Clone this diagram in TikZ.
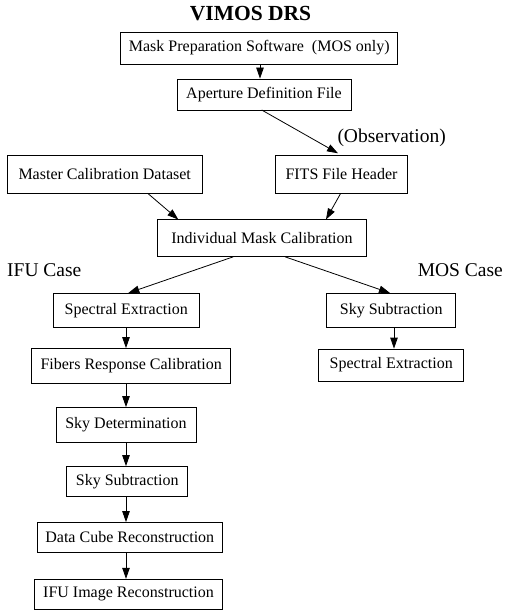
\documentclass[tikz,border=0pt]{standalone}
\usepackage{fontspec}
\setmainfont{Liberation Serif}
\usetikzlibrary{arrows.meta}
\begin{document}
\begin{tikzpicture}[x=1pt,y=-1pt,
  box/.style={draw,line width=0.8pt,inner sep=0pt,font=\fontsize{16}{19}\selectfont},
  lbl/.style={font=\fontsize{19.5}{23}\selectfont,inner sep=0pt},
  arr/.style={-{Triangle[length=11pt,width=7.5pt]},line width=0.8pt}]
\useasboundingbox (0,0) rectangle (506,610);
\node[font=\bfseries\fontsize{21.5}{25}\selectfont,inner sep=0pt] (title) at (250.5,14) {VIMOS DRS};
\node[box,minimum width=277pt,minimum height=32pt] (mps) at (259.3,48) {Mask Preparation Software\ \ (MOS only)};
\node[box,minimum width=174pt,minimum height=31pt] (adf) at (264,94.5) {Aperture Definition File};
\node[box,minimum width=195pt,minimum height=38pt] (mcd) at (104.7,174.3) {Master Calibration Dataset};
\node[box,minimum width=132pt,minimum height=38pt] (fits) at (341.5,174.3) {FITS File Header};
\node[lbl,anchor=west] (obs) at (337.3,138) {(Observation)};
\node[box,minimum width=209pt,minimum height=37pt] (imc) at (262,238.3) {Individual Mask Calibration};
\node[lbl,anchor=west] (ifu) at (7,270) {IFU Case};
\node[lbl,anchor=east] (mos) at (503,270) {MOS Case};
\node[box,minimum width=146pt,minimum height=34pt] (se1) at (126.2,310.3) {Spectral Extraction};
\node[box,minimum width=199pt,minimum height=35pt] (frc) at (131.2,366) {Fibers Response Calibration};
\node[box,minimum width=140pt,minimum height=35pt] (sd) at (126,425) {Sky Determination};
\node[box,minimum width=121pt,minimum height=30pt] (ss1) at (127.2,481.5) {Sky Subtraction};
\node[box,minimum width=185pt,minimum height=30pt] (dcr) at (129.8,537.5) {Data Cube Reconstruction};
\node[box,minimum width=188pt,minimum height=30pt] (iir) at (128.5,594.2) {IFU Image Reconstruction};
\node[box,minimum width=129pt,minimum height=34pt] (ss2) at (391.2,310.3) {Sky Subtraction};
\node[box,minimum width=145pt,minimum height=32pt] (se2) at (391.2,365) {Spectral Extraction};
\draw[arr] (mps.south -| 260,0) -- (adf.north -| 260,0);
\draw[arr] (261.7,110) -- (338,153.3);
\draw[arr] (147.7,193.3) -- (178.3,219.5);
\draw[arr] (340.7,193.3) -- (326,219.5);
\draw[arr] (233.3,256.8) -- (128.3,293);
\draw[arr] (285,256.8) -- (390,293);
\draw[arr] (se1.south -| 126,0) -- (frc.north -| 126,0);
\draw[arr] (frc.south -| 126,0) -- (sd.north -| 126,0);
\draw[arr] (sd.south -| 126,0) -- (ss1.north -| 126,0);
\draw[arr] (ss1.south -| 126,0) -- (dcr.north -| 126,0);
\draw[arr] (dcr.south -| 126,0) -- (iir.north -| 126,0);
\draw[arr] (ss2.south -| 394,0) -- (se2.north -| 394,0);
\end{tikzpicture}
\end{document}
